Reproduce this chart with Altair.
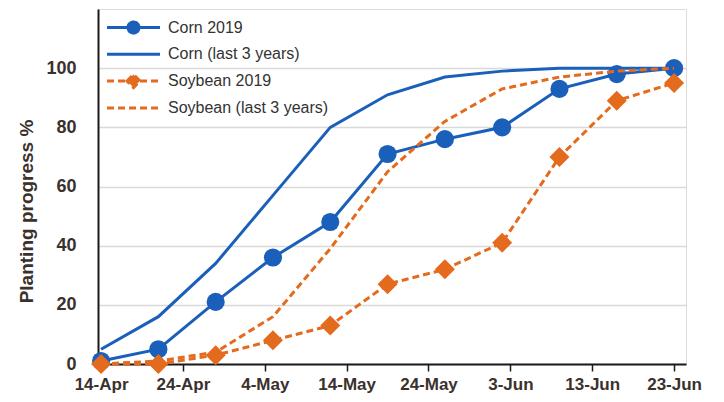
import altair as alt
import pandas as pd

# ---- data ----
dates = ["2019-04-14", "2019-04-21", "2019-04-28", "2019-05-05", "2019-05-12", "2019-05-19",
         "2019-05-26", "2019-06-02", "2019-06-09", "2019-06-16", "2019-06-23"]
corn_2019 = [1, 5, 21, 36, 48, 71, 76, 80, 93, 98, 100]
corn_3yr = [5, 16, 34, 57, 80, 91, 97, 99, 100, 100, 100]
soy_2019 = [0, 0, 3, 8, 13, 27, 32, 41, 70, 89, 95]
soy_3yr = [0, 1, 4, 16, 39, 65, 82, 93, 97, 99, 100]
series_names = ["Corn 2019", "Corn (last 3 years)", "Soybean 2019", "Soybean (last 3 years)"]
tick_dates = [(4, 14), (4, 24), (5, 4), (5, 14), (5, 24), (6, 3), (6, 13), (6, 23)]
y_ticks = [0, 20, 40, 60, 80, 100]

BLUE = "#1a5fba"
ORANGE = "#e46a1e"
TEXT = "#3a312c"
FONT = "Liberation Sans, Arial, Roboto, sans-serif"

rows = []
for name, vals in zip(series_names, [corn_2019, corn_3yr, soy_2019, soy_3yr]):
    for d, v in zip(dates, vals):
        rows.append({"date": d, "value": v, "series": name})
df = pd.DataFrame(rows)

x_enc = alt.X(
    "date:T",
    title=None,
    scale=alt.Scale(
        type="utc",
        domain=[alt.DateTime(year=2019, month=4, date=13, hours=15, utc=True),
                alt.DateTime(year=2019, month=6, date=24, hours=11, utc=True)],
    ),
    axis=alt.Axis(
        values=[alt.DateTime(year=2019, month=m, date=d, utc=True) for m, d in tick_dates],
        labelExpr="utcdate(datum.value) + '-' + utcFormat(datum.value, '%b')",
        grid=False, ticks=True, tickSize=7, tickWidth=1.5, tickColor="#1a1a1a",
        domainColor="#1a1a1a", domainWidth=2,
        labelFont=FONT, labelFontSize=17, labelFontWeight="bold", labelColor=TEXT,
        labelPadding=5, labelFlush=False, labelOverlap=False,
    ),
)
y_enc = alt.Y(
    "value:Q",
    scale=alt.Scale(domain=[0, 120], nice=False, zero=True),
    axis=alt.Axis(
        values=y_ticks, ticks=False, grid=True, gridColor="#d9d9d9", gridWidth=1.5,
        domainColor="#1a1a1a", domainWidth=2,
        labelFont=FONT, labelFontSize=18, labelFontWeight="bold", labelColor=TEXT,
        labelPadding=22,
        title="Planting progress %", titleFont=FONT, titleFontSize=19, titleFontWeight="bold",
        titleColor=TEXT, titleAngle=-90, titleX=-72, titleY=202, titleAlign="center",
        titleBaseline="middle",
    ),
)

base = alt.Chart(df).encode(x=x_enc, y=y_enc)

corn_lines = base.transform_filter(
    alt.FieldOneOfPredicate(field="series", oneOf=["Corn 2019", "Corn (last 3 years)"])
).mark_line(color=BLUE, strokeWidth=3).encode(detail="series:N")

corn_points = base.transform_filter(
    alt.FieldEqualPredicate(field="series", equal="Corn 2019")
).mark_point(filled=True, shape="circle", size=330, color=BLUE, opacity=1)

soy_lines = base.transform_filter(
    alt.FieldOneOfPredicate(field="series", oneOf=["Soybean 2019", "Soybean (last 3 years)"])
).mark_line(color=ORANGE, strokeWidth=3, strokeDash=[7, 4]).encode(detail="series:N")

soy_points = base.transform_filter(
    alt.FieldEqualPredicate(field="series", equal="Soybean 2019")
).mark_point(filled=True, shape="diamond", size=400, color=ORANGE, opacity=1)

# legend: small nominal symbol size (compact rows), paths drawn wider than it
legend = alt.Legend(
    title=None, orient="none", legendX=26, legendY=9,
    labelFont=FONT, labelFontSize=16, labelColor="#333333", labelLimit=400,
    symbolSize=256, symbolStrokeWidth=3, rowPadding=1.8, labelOffset=25,
)
pad = "M0,-0.8L0,-0.8M0,0.8L0,0.8"
sym_paths = [
    "M-3.31,0L3.31,0M0.69,0A0.69,0.69 0 1,1 -0.69,0A0.69,0.69 0 1,1 0.69,0Z" + pad,
    "M-3.31,0L3.31,0" + pad,
    "M-3.31,0L3.31,0M-0.81,0L0,-0.81L0.81,0L0,0.81Z" + pad,
    "M-3.31,0L3.31,0" + pad,
]
legend_layer = base.transform_filter("false").mark_point(filled=False, strokeWidth=3, opacity=1).encode(
    stroke=alt.Stroke("series:N", scale=alt.Scale(domain=series_names, range=[BLUE, BLUE, ORANGE, ORANGE]), legend=legend),
    fill=alt.Fill("series:N", scale=alt.Scale(domain=series_names, range=[BLUE, "transparent", ORANGE, "transparent"]), legend=legend),
    shape=alt.Shape("series:N", scale=alt.Scale(domain=series_names, range=sym_paths), legend=legend),
    strokeDash=alt.StrokeDash("series:N", scale=alt.Scale(domain=series_names, range=[[1, 0], [1, 0], [7, 4], [7, 4]]), legend=legend),
)

chart = alt.layer(corn_lines, corn_points, soy_lines, soy_points, legend_layer).properties(
    width=588, height=355,
    autosize=alt.AutoSizeParams(type="none"),
    padding={"left": 90, "top": 1, "right": 30, "bottom": 30},
).configure_view(stroke="#5a5a5a", strokeWidth=1.5).configure(background="white")

chart.save("out.html", embed_options={"renderer": "svg", "actions": False})
